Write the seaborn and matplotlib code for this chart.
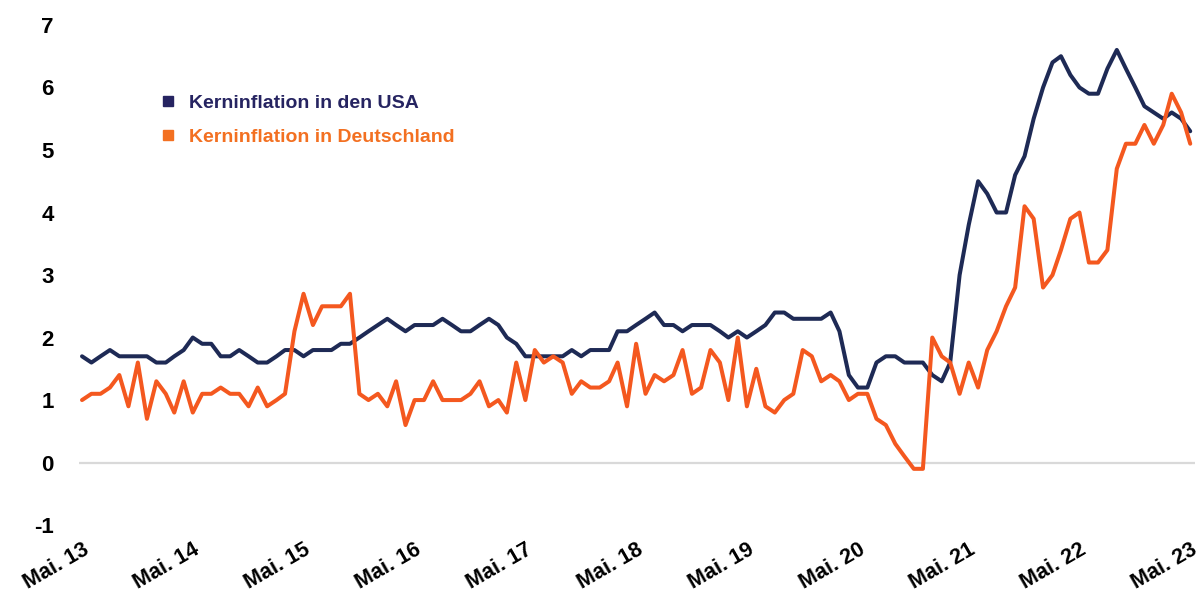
import numpy as np
import pandas as pd
import matplotlib
matplotlib.use("Agg")
import matplotlib.pyplot as plt
from matplotlib.lines import Line2D
from matplotlib.ticker import FuncFormatter
import matplotlib.dates as mdates
import seaborn as sns

# monthly core inflation, May 2013 - May 2023 (in %)
months = pd.date_range("2013-05-01", "2023-05-01", freq="MS")

us_core = [
    1.7, 1.6, 1.7, 1.8, 1.7, 1.7, 1.7, 1.7,
    1.6, 1.6, 1.7, 1.8, 2.0, 1.9, 1.9, 1.7, 1.7, 1.8, 1.7, 1.6,
    1.6, 1.7, 1.8, 1.8, 1.7, 1.8, 1.8, 1.8, 1.9, 1.9, 2.0, 2.1,
    2.2, 2.3, 2.2, 2.1, 2.2, 2.2, 2.2, 2.3, 2.2, 2.1, 2.1, 2.2,
    2.3, 2.2, 2.0, 1.9, 1.7, 1.7, 1.7, 1.7, 1.7, 1.8, 1.7, 1.8,
    1.8, 1.8, 2.1, 2.1, 2.2, 2.3, 2.4, 2.2, 2.2, 2.1, 2.2, 2.2,
    2.2, 2.1, 2.0, 2.1, 2.0, 2.1, 2.2, 2.4, 2.4, 2.3, 2.3, 2.3,
    2.3, 2.4, 2.1, 1.4, 1.2, 1.2, 1.6, 1.7, 1.7, 1.6, 1.6, 1.6,
    1.4, 1.3, 1.6, 3.0, 3.8, 4.5, 4.3, 4.0, 4.0, 4.6, 4.9, 5.5,
    6.0, 6.4, 6.5, 6.2, 6.0, 5.9, 5.9, 6.3, 6.6, 6.3, 6.0, 5.7,
    5.6, 5.5, 5.6, 5.5, 5.3,
]

de_core = [
    1.0, 1.1, 1.1, 1.2, 1.4, 0.9, 1.6, 0.7,
    1.3, 1.1, 0.8, 1.3, 0.8, 1.1, 1.1, 1.2, 1.1, 1.1, 0.9, 1.2,
    0.9, 1.0, 1.1, 2.1, 2.7, 2.2, 2.5, 2.5, 2.5, 2.7, 1.1, 1.0,
    1.1, 0.9, 1.3, 0.6, 1.0, 1.0, 1.3, 1.0, 1.0, 1.0, 1.1, 1.3,
    0.9, 1.0, 0.8, 1.6, 1.0, 1.8, 1.6, 1.7, 1.6, 1.1, 1.3, 1.2,
    1.2, 1.3, 1.6, 0.9, 1.9, 1.1, 1.4, 1.3, 1.4, 1.8, 1.1, 1.2,
    1.8, 1.6, 1.0, 2.0, 0.9, 1.5, 0.9, 0.8, 1.0, 1.1, 1.8, 1.7,
    1.3, 1.4, 1.3, 1.0, 1.1, 1.1, 0.7, 0.6, 0.3, 0.1, -0.1, -0.1,
    2.0, 1.7, 1.6, 1.1, 1.6, 1.2, 1.8, 2.1, 2.5, 2.8, 4.1, 3.9,
    2.8, 3.0, 3.4, 3.9, 4.0, 3.2, 3.2, 3.4, 4.7, 5.1, 5.1, 5.4,
    5.1, 5.4, 5.9, 5.6, 5.1,
]

series_names = ["Kerninflation in den USA", "Kerninflation in Deutschland"]
line_colors = ["#1e2a55", "#f4581f"]
legend_colors = ["#262461", "#f37021"]

df = pd.DataFrame({
    "Monat": list(months) * 2,
    "Wert": us_core + de_core,
    "Reihe": [series_names[0]] * len(months) + [series_names[1]] * len(months),
})

sns.set_theme(style="white")
plt.rcParams["font.family"] = ["Liberation Sans", "DejaVu Sans"]
plt.rcParams["axes.unicode_minus"] = False

fig = plt.figure(figsize=(12.04, 5.94), dpi=100)
ax = fig.add_axes([0.0656, 0.116, 0.927, 0.842])

ax.axhline(0, color="#d9d9d9", lw=1.6, zorder=0)
sns.lineplot(data=df, x="Monat", y="Wert", hue="Reihe",
             palette=dict(zip(series_names, line_colors)),
             linewidth=2.9, legend=False, ax=ax)

ax.set_ylim(-1, 7)
ax.set_yticks(range(-1, 8))
ax.set_xlim(pd.Timestamp("2013-04-21"), pd.Timestamp("2023-05-17"))
ax.set_xticks([pd.Timestamp(f"{y}-05-01") for y in range(2013, 2024)])
ax.xaxis.set_major_formatter(FuncFormatter(
    lambda v, pos: "Mai. " + mdates.num2date(v).strftime("%y")))
ax.set_xlabel("")
ax.set_ylabel("")

for s in ax.spines.values():
    s.set_visible(False)
ax.tick_params(axis="y", length=0, pad=18, labelsize=16, labelcolor="black")
ax.tick_params(axis="x", length=0, pad=10, labelsize=15.5, labelcolor="black")
for lab in ax.get_yticklabels():
    lab.set_fontweight("bold")
for lab in ax.get_xticklabels():
    lab.set_fontweight("bold")
    lab.set_rotation(30)
    lab.set_ha("right")
    lab.set_rotation_mode("anchor")

handles = [Line2D([], [], linestyle="none", marker="s", markersize=7,
                  color=c) for c in legend_colors]
leg = ax.legend(handles, series_names, loc="upper left",
                bbox_to_anchor=(0.117, 0.871), bbox_transform=fig.transFigure,
                frameon=False, handlelength=1.0, handletextpad=0.6,
                labelspacing=0.85, prop={"size": 14, "weight": "bold"})
for txt, c in zip(leg.get_texts(), legend_colors):
    txt.set_color(c)

fig.savefig("out.png", dpi=100, facecolor="white")
